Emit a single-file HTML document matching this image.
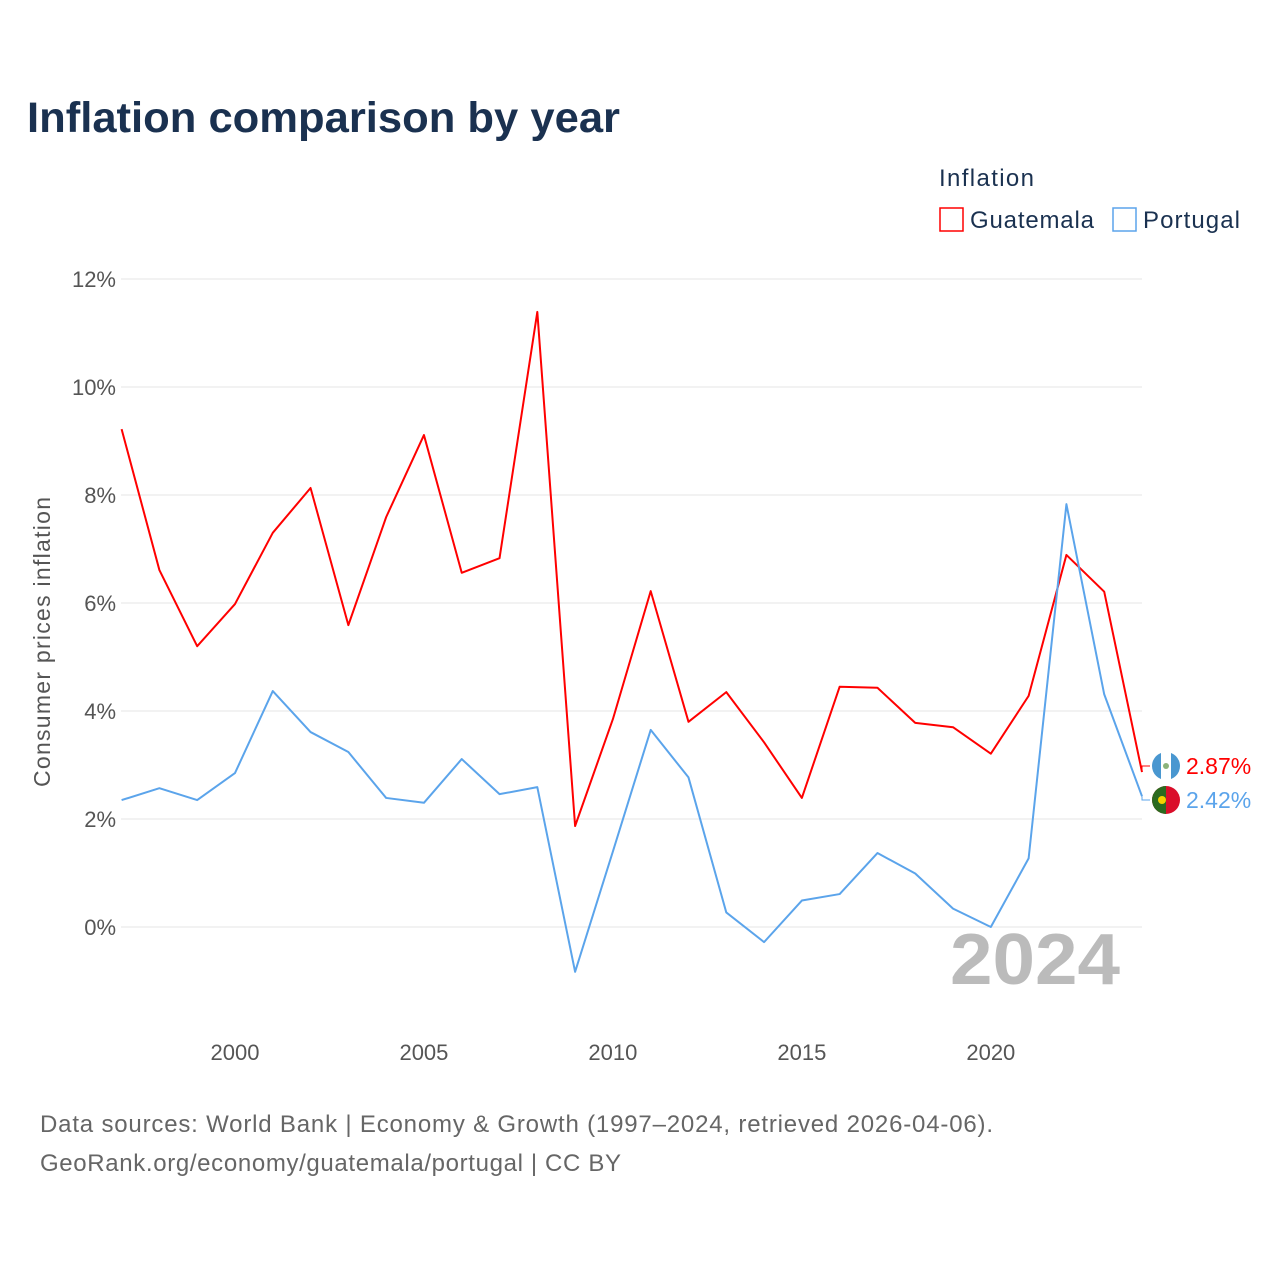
<!DOCTYPE html>
<html><head><meta charset="utf-8"><style>
body{margin:0;background:#fff;font-family:"Liberation Sans",sans-serif}
svg{display:block}
</style></head><body>
<svg id="chart" width="1280" height="1280" xmlns="http://www.w3.org/2000/svg">
<text x="27" y="132" font-size="43" font-weight="bold" fill="#1a3150" textLength="593" lengthAdjust="spacingAndGlyphs">Inflation comparison by year</text>
<g>
<text x="939" y="186" font-size="24" fill="#1a3150" textLength="95">Inflation</text>
<g><rect x="940" y="208" width="23" height="23" fill="none" stroke="#f00" stroke-width="1.5"/><text x="970" y="228" font-size="24" fill="#1a3150" textLength="124">Guatemala</text></g>
<g><rect x="1113" y="208" width="23" height="23" fill="none" stroke="#5ba4eb" stroke-width="1.5"/><text x="1143" y="228" font-size="24" fill="#1a3150" textLength="97">Portugal</text></g>
</g>
<g id="grid"></g>
<g id="xticks"></g>
<text transform="translate(50,642) rotate(-90)" text-anchor="middle" font-size="23" fill="#555" textLength="290">Consumer prices inflation</text>
<text x="950" y="984" font-size="72" font-weight="bold" fill="#bbb" textLength="170" lengthAdjust="spacingAndGlyphs">2024</text>
<g id="series"></g>
<text x="40" y="1132" font-size="24" fill="#666" textLength="953">Data sources: World Bank | Economy &amp; Growth (1997–2024, retrieved 2026-04-06).</text>
<text x="40" y="1171" font-size="24" fill="#666" textLength="581">GeoRank.org/economy/guatemala/portugal | CC BY</text>
</svg>
<script>
const years=[1997,1998,1999,2000,2001,2002,2003,2004,2005,2006,2007,2008,2009,2010,2011,2012,2013,2014,2015,2016,2017,2018,2019,2020,2021,2022,2023,2024];
const guatemala=[9.22,6.61,5.20,5.98,7.30,8.13,5.59,7.59,9.11,6.56,6.83,11.39,1.87,3.85,6.22,3.80,4.35,3.42,2.39,4.45,4.43,3.78,3.70,3.21,4.28,6.89,6.21,2.87];
const portugal=[2.35,2.57,2.35,2.85,4.37,3.61,3.24,2.39,2.30,3.11,2.46,2.59,-0.83,1.40,3.65,2.77,0.27,-0.28,0.49,0.61,1.37,0.99,0.34,0.0,1.27,7.83,4.31,2.42];
const yTicks=[0,2,4,6,8,10,12];
const xTicks=[2000,2005,2010,2015,2020];
const NS="http://www.w3.org/2000/svg";
const x=v=>121.6+(v-1997)*(1142-121.6)/27;
const y=v=>927-v*54;
function mk(tag,attrs,parent,txt){const e=document.createElementNS(NS,tag);for(const k in attrs)e.setAttribute(k,attrs[k]);if(txt!==undefined)e.textContent=txt;parent.appendChild(e);return e;}
const grid=document.getElementById('grid');
yTicks.forEach(t=>{
 const l=mk('line',{x1:121,x2:1142,y1:y(t),y2:y(t),stroke:'#e6e6e6','stroke-width':1},grid);
 
 
 const tx=mk('text',{x:116,y:y(t)+8,'text-anchor':'end','font-size':22,fill:'#555'},grid,t+'%');
 
 
});
const xt=document.getElementById('xticks');
xTicks.forEach(t=>{
 const tx=mk('text',{x:x(t),y:1060,'text-anchor':'middle','font-size':22,fill:'#555'},xt,String(t));
 
 
});
const s=document.getElementById('series');
function line(data,color,name,ly,label,flag){
 const p=mk('polyline',{points:data.map((v,i)=>x(years[i])+','+y(v)).join(' '),fill:'none',stroke:color,'stroke-width':2,'stroke-linejoin':'round'},s);
 
 
 const last=data[data.length-1];
 mk('polyline',{points:`${x(2024)},${y(last)} ${x(2024)},${ly} ${x(2024)+8},${ly}`,fill:'none',stroke:color,'stroke-width':1},s);
 const g=mk('g',{},s);
 
 
 if(flag==='gt'){
  mk('circle',{cx:1166,cy:ly,r:14,fill:'#4997d0'},g);
  mk('rect',{x:1161,y:ly-14,width:10,height:28,fill:'#fff'},g);
  mk('circle',{cx:1166,cy:ly,r:3,fill:'#8bb37a'},g);
 }else{
  mk('circle',{cx:1166,cy:ly,r:14,fill:'#da0e2a'},g);
  mk('path',{d:`M1166 ${ly-14} A14 14 0 0 0 1166 ${ly+14} Z`,fill:'#2b6a1f'},g);
  mk('circle',{cx:1162,cy:ly,r:4,fill:'#f5d000'},g);
 }
 const t=mk('text',{x:1186,y:ly+8,'font-size':23,fill:color},s,label);
 
 
}
line(guatemala,'#f00','guatemala',766,guatemala[guatemala.length-1].toFixed(2)+'%','gt');
line(portugal,'#5ba4eb','portugal',800,portugal[portugal.length-1].toFixed(2)+'%','pt');
</script>
</body></html>
